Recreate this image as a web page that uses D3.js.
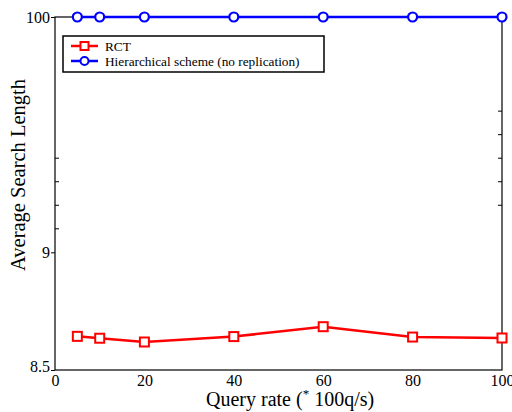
<!DOCTYPE html>
<html>
<head>
<meta charset="utf-8">
<script src="https://cdn.jsdelivr.net/npm/d3@7"></script>
<style>
  body { margin: 0; background: #fff; }
  svg text { font-family: "Liberation Serif", "Times New Roman", serif !important; }
</style>
</head>
<body>
<div id="chart"></div>
<script>
var queryRate = [5, 10, 20, 40, 60, 80, 100];
var rctValues = [8.643, 8.635, 8.619, 8.642, 8.684, 8.640, 8.636];
var hierValues = [10, 10, 10, 10, 10, 10, 10];
var xTicks = [0, 20, 40, 60, 80, 100];
var yTicks = [8.5, 9, 10];
var yTickLabels = ["8.5", "9", "100"];
var leftMinor = [9.1, 9.2, 9.3, 9.4];
var rightMinor = [9.2, 9.3, 9.4, 9.5, 9.6];

var width = 512, height = 412;
var margin = {top: 17, right: 10, bottom: 42, left: 55};
var w = width - margin.left - margin.right;
var h = height - margin.top - margin.bottom;

var svg = d3.select("#chart").append("svg")
    .attr("width", width)
    .attr("height", height);

var g = svg.append("g")
    .attr("transform", "translate(" + margin.left + "," + margin.top + ")");

var x = d3.scaleLinear().domain([0, 100]).range([0, w]);
var y = d3.scaleLinear().domain([8.5, 10]).range([h, 0]);

// frame
g.append("rect")
    .attr("width", w).attr("height", h)
    .attr("fill", "none").attr("stroke", "#000").attr("stroke-width", 1.2);

// x axis
var xAxis = g.append("g")
    .attr("transform", "translate(0," + h + ")")
    .call(d3.axisBottom(x).tickValues(xTicks).tickSize(0).tickPadding(5));
xAxis.select(".domain").remove();
xAxis.selectAll("text")
    .style("font-size", "16px").attr("fill", "#000");

// y axis
var yAxis = g.append("g")
    .call(d3.axisLeft(y).tickValues(yTicks).tickSize(4).tickPadding(1)
        .tickFormat(function (d, i) { return yTickLabels[i]; }));
yAxis.select(".domain").remove();
yAxis.selectAll("line").attr("stroke", "#000");
yAxis.selectAll("text")
    .style("font-size", "16px").attr("fill", "#000");
yAxis.selectAll(".tick").filter(function (d) { return d === 8.5; })
    .select("text").attr("dy", "0.1em");

// minor ticks
g.selectAll(".lminor").data(leftMinor).enter().append("line")
    .attr("x1", 0).attr("x2", 4)
    .attr("y1", function (d) { return y(d); })
    .attr("y2", function (d) { return y(d); })
    .attr("stroke", "#000");
g.selectAll(".rminor").data(rightMinor).enter().append("line")
    .attr("x1", w).attr("x2", w - 4)
    .attr("y1", function (d) { return y(d); })
    .attr("y2", function (d) { return y(d); })
    .attr("stroke", "#000");

// axis titles
var xt = svg.append("text")
    .attr("x", 206)
    .attr("y", 406)
    .attr("text-anchor", "start")
    .style("font-size", "20px")
    .attr("fill", "#000");
xt.append("tspan").text("Query rate (");
xt.append("tspan").text("*").style("font-size", "13px").attr("dy", "-8");
xt.append("tspan").text(" 100q/s)").attr("dy", "8");

svg.append("text")
    .attr("transform", "translate(25,175) rotate(-90)")
    .attr("text-anchor", "middle")
    .style("font-size", "20.5px")
    .attr("fill", "#000")
    .text("Average Search Length");

var line = d3.line()
    .x(function (d, i) { return x(queryRate[i]); })
    .y(function (d) { return y(d); });

// RCT series
g.append("path").datum(rctValues)
    .attr("d", line)
    .attr("fill", "none").attr("stroke", "#ff0000").attr("stroke-width", 2.5);
g.selectAll(".sq").data(rctValues).enter().append("rect")
    .attr("x", function (d, i) { return x(queryRate[i]) - 4.5; })
    .attr("y", function (d) { return y(d) - 4.5; })
    .attr("width", 9).attr("height", 9)
    .attr("fill", "#fff").attr("stroke", "#ff0000").attr("stroke-width", 2);

// hierarchical series
g.append("path").datum(hierValues)
    .attr("d", line)
    .attr("fill", "none").attr("stroke", "#0000ff").attr("stroke-width", 2.5);
g.selectAll(".circ").data(hierValues).enter().append("circle")
    .attr("cx", function (d, i) { return x(queryRate[i]); })
    .attr("cy", function (d) { return y(d); })
    .attr("r", 4.5)
    .attr("fill", "#fff").attr("stroke", "#0000ff").attr("stroke-width", 2.2);

// legend
var legend = g.append("g").attr("transform", "translate(8,19)");
legend.append("rect")
    .attr("width", 261).attr("height", 36)
    .attr("fill", "#fff").attr("stroke", "#000").attr("stroke-width", 1.5);
var items = [
    {name: "RCT", color: "#ff0000", shape: "square"},
    {name: "Hierarchical scheme (no replication)", color: "#0000ff", shape: "circle"}
];
items.forEach(function (it, i) {
    var row = legend.append("g").attr("transform", "translate(0," + (10 + i * 15) + ")");
    row.append("line").attr("x1", 8).attr("x2", 35)
        .attr("stroke", it.color).attr("stroke-width", 2.5);
    if (it.shape === "square") {
        row.append("rect").attr("x", 17.5).attr("y", -4).attr("width", 8).attr("height", 8)
            .attr("fill", "#fff").attr("stroke", it.color).attr("stroke-width", 2);
    } else {
        row.append("circle").attr("cx", 21.5).attr("r", 4)
            .attr("fill", "#fff").attr("stroke", it.color).attr("stroke-width", 2);
    }
    row.append("text").attr("x", 42).attr("dy", "0.35em")
        .style("font-size", "13.3px").attr("fill", "#000").text(it.name);
});
</script>
</body>
</html>
